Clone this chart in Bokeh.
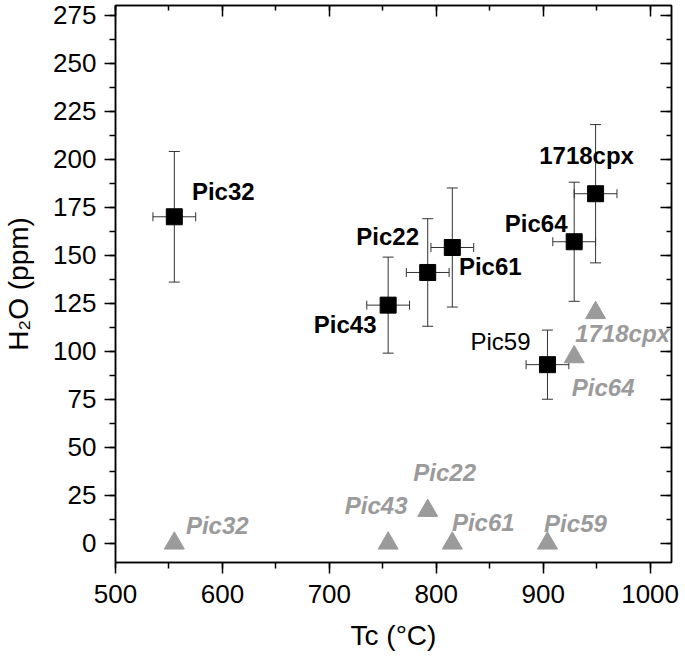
from bokeh.plotting import figure
from bokeh.models import (Range1d, LinearAxis, SingleIntervalTicker, Whisker,
                          ColumnDataSource, TeeHead, LabelSet, CustomJSTickFormatter)
from bokeh.embed import file_html
from bokeh.resources import INLINE
from bokeh.core.properties import value

# ---------------- data ----------------
samples = ["Pic32", "Pic43", "Pic22", "Pic61", "Pic59", "Pic64", "1718cpx"]
tc = [555, 755, 792, 815, 904, 929, 949]
tc_err = [20, 20, 20, 20, 20, 20, 20]
h2o = [170, 124, 141, 154, 93, 157, 182]
h2o_low = [136, 99, 113, 123, 75, 126, 146]
h2o_high = [204, 149, 169, 185, 111, 188, 218]

# grey triangles (second estimate)
h2o_grey = [0, 0, 17, 0, 0, 97, 120]

x_ticks_interval = 100
y_ticks_interval = 25

# ---------------- label placement (pixels, screen) ----------------
black_dx = [49, -43, -40, 38, -47, -38, -9]
black_dy = [25, -19, 36, -19, 23, 18, 38]
grey_dx = [43, -12, 17, 31, 28, 29, 27]
grey_dy = [18, 38, 38, 21, 20, -31, -21]

FONT = "Liberation Sans"
GREY = "#9b9b9b"

p = figure(frame_width=556, frame_height=557,
           x_range=Range1d(500, 1020), y_range=Range1d(-10, 280),
           output_backend="svg", toolbar_location=None,
           min_border_left=111, min_border_top=5, min_border_right=8,
           min_border_bottom=0)

p.xgrid.grid_line_color = None
p.ygrid.grid_line_color = None
p.outline_line_color = "black"
p.outline_line_width = 1.5
p.background_fill_color = "white"
p.border_fill_color = "white"

def style_axis(ax, labels=True, inward=False):
    ax.axis_line_color = "black"
    ax.axis_line_width = 1.5
    ax.major_tick_line_width = 1.5
    ax.minor_tick_line_width = 1.5
    ax.major_tick_line_color = "black"
    ax.minor_tick_line_color = "black"
    if inward:
        ax.major_tick_in = 11
        ax.major_tick_out = 0
        ax.minor_tick_in = 5
        ax.minor_tick_out = 0
    else:
        ax.major_tick_in = 0
        ax.major_tick_out = 11
        ax.minor_tick_in = 0
        ax.minor_tick_out = 6
    if labels:
        ax.major_label_text_font = FONT
        ax.major_label_text_font_size = "26px"
        ax.major_label_text_color = "black"
        ax.axis_label_text_font = FONT
        ax.axis_label_text_font_size = "28px"
        ax.axis_label_text_font_style = "normal"
        ax.axis_label_text_color = "black"
    else:
        ax.formatter = CustomJSTickFormatter(code="return ''")
        ax.major_label_text_font_size = "2px"
        ax.major_label_standoff = 0
        ax.axis_label_standoff = 0

xt = SingleIntervalTicker(interval=x_ticks_interval, num_minor_ticks=2)
yt = SingleIntervalTicker(interval=y_ticks_interval, num_minor_ticks=2)

p.xaxis.ticker = xt
p.yaxis.ticker = yt
style_axis(p.xaxis[0])
style_axis(p.yaxis[0])
p.xaxis.axis_label = "Tc (°C)"
p.yaxis.axis_label = "H₂O (ppm)"
p.xaxis.major_label_standoff = 11
p.xaxis.axis_label_standoff = 14
p.yaxis.major_label_standoff = 8
p.yaxis.axis_label_standoff = 16

top = LinearAxis(ticker=SingleIntervalTicker(interval=x_ticks_interval, num_minor_ticks=2))
style_axis(top, labels=False, inward=True)
p.add_layout(top, "above")
right = LinearAxis(ticker=SingleIntervalTicker(interval=y_ticks_interval, num_minor_ticks=2))
style_axis(right, labels=False, inward=True)
p.add_layout(right, "right")

# ---------------- sources ----------------
src = ColumnDataSource(dict(
    x=tc, y=h2o, lo=h2o_low, hi=h2o_high,
    xlo=[a - e for a, e in zip(tc, tc_err)],
    xhi=[a + e for a, e in zip(tc, tc_err)],
    name=samples, dx=black_dx, dy=black_dy,
))
gsrc = ColumnDataSource(dict(x=tc, y=h2o_grey, name=samples, dx=grey_dx, dy=grey_dy))

ERR = "#333333"
p.add_layout(Whisker(source=src, base="x", upper="hi", lower="lo", dimension="height",
                     line_color=ERR, line_width=1,
                     upper_head=TeeHead(size=11, line_color=ERR, line_width=1),
                     lower_head=TeeHead(size=11, line_color=ERR, line_width=1)))
p.add_layout(Whisker(source=src, base="y", upper="xhi", lower="xlo", dimension="width",
                     line_color=ERR, line_width=1,
                     upper_head=TeeHead(size=9, line_color=ERR, line_width=1),
                     lower_head=TeeHead(size=9, line_color=ERR, line_width=1)))

p.scatter("x", "y", source=gsrc, marker="triangle", size=20,
          fill_color=GREY, line_color=GREY)
p.scatter("x", "y", source=src, marker="square", size=16,
          fill_color="black", line_color="black")

# black labels: all bold except Pic59
bold_idx = [i for i, s in enumerate(samples) if s != "Pic59"]
norm_idx = [i for i, s in enumerate(samples) if s == "Pic59"]

def sub(idx):
    return ColumnDataSource(dict(
        x=[tc[i] for i in idx], y=[h2o[i] for i in idx],
        name=[samples[i] for i in idx],
        dx=[black_dx[i] for i in idx], dy=[black_dy[i] for i in idx]))

p.add_layout(LabelSet(source=sub(bold_idx), x="x", y="y", text="name",
                      x_offset="dx", y_offset="dy", text_align="center",
                      text_baseline="middle", text_font=value(FONT),
                      text_font_style="bold", text_font_size="24px",
                      text_color="black"))
p.add_layout(LabelSet(source=sub(norm_idx), x="x", y="y", text="name",
                      x_offset="dx", y_offset="dy", text_align="center",
                      text_baseline="middle", text_font=value(FONT),
                      text_font_style="normal", text_font_size="24px",
                      text_color="black"))
p.add_layout(LabelSet(source=gsrc, x="x", y="y", text="name",
                      x_offset="dx", y_offset="dy", text_align="center",
                      text_baseline="middle", text_font=value(FONT),
                      text_font_style="bold italic", text_font_size="24px",
                      text_color=GREY))

open("out.html", "w").write(file_html(p, INLINE))
